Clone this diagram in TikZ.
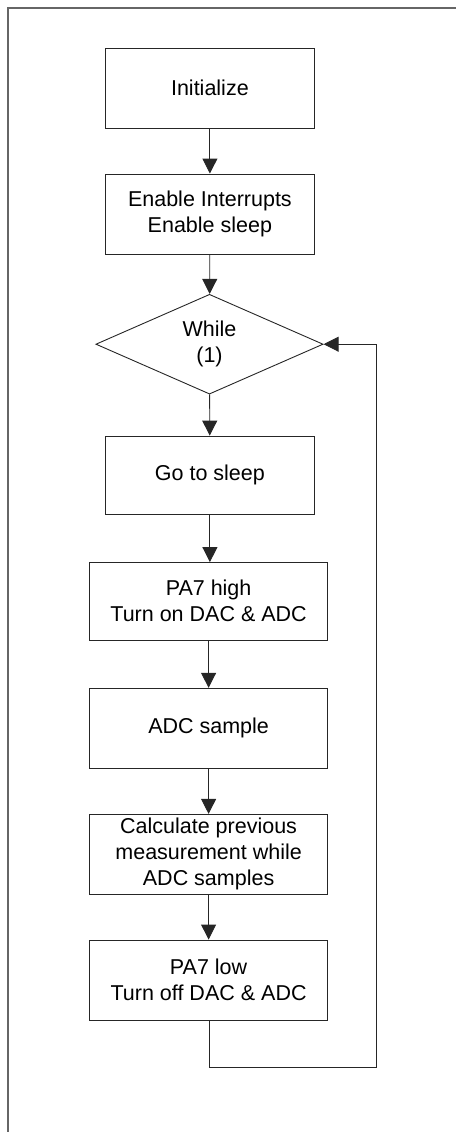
\documentclass[tikz,border=0pt]{standalone}
\usepackage{fontspec}
\setmainfont{Liberation Sans}
\usetikzlibrary{arrows.meta,shapes.geometric}
\tikzset{
  x=1pt,y=-1pt,
  procbox/.style={draw=black!85,line width=0.9pt,rectangle,inner sep=0pt,align=center,
    font=\fontsize{21.5}{26}\selectfont},
  narrowbox/.style={procbox,minimum width=208.3pt,minimum height=80pt},
  widebox/.style={procbox,minimum width=238.5pt,minimum height=78pt},
  decision/.style={draw=black!85,line width=0.9pt,diamond,inner sep=0pt,align=center,
    minimum width=227.3pt,minimum height=87pt,font=\fontsize{21.5}{26}\selectfont},
  flow/.style={draw=black!85,line width=0.9pt,-{Triangle[length=15pt,width=15pt]}},
  frameline/.style={draw=black!60,line width=1.6pt}
}
\begin{document}
\begin{tikzpicture}
\useasboundingbox (0,0) rectangle (456,1132);
\draw[frameline] (8,1132) -- (8,8) -- (456,8);
\node[narrowbox] (init) at (209.9,88) {Initialize};
\node[narrowbox] (en) at (209.9,214) {Enable Interrupts\\Enable sleep};
\node[decision] (wh) at (209.5,344.2) {While\\(1)};
\node[narrowbox,minimum height=78.3pt] (gs) at (209.9,475.2) {Go to sleep};
\node[widebox,minimum height=77.5pt] (ph) at (208.6,601.3) {PA7 high\\Turn on DAC \& ADC};
\node[widebox,minimum height=80pt] (adc) at (208.6,728.3) {ADC sample};
\node[widebox,minimum height=79.7pt] (calc) at (208.6,854.2) {Calculate previous\\measurement while\\ADC samples};
\node[widebox,minimum height=80pt] (pl) at (208.6,980) {PA7 low\\Turn off DAC \& ADC};
\coordinate (lc) at (376.7,1067);
\draw[flow] (init) -- (en);
\draw[flow] (en) -- (wh);
\draw[flow] (wh) -- (gs);
\draw[flow] (gs.south) -- (gs.south |- ph.north);
\draw[flow] (ph) -- (adc);
\draw[flow] (adc) -- (calc);
\draw[flow] (calc) -- (pl);
\draw[flow] (pl.south -| gs.south) |- (lc) |- (wh.east);
\end{tikzpicture}
\end{document}
